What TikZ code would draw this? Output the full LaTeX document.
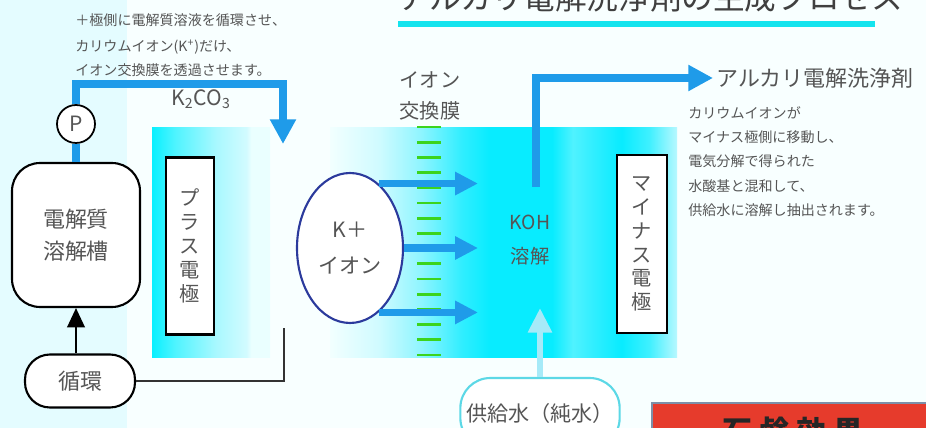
\documentclass[tikz,border=0pt]{standalone}
\usepackage{fontspec}
\setmainfont{Noto Sans CJK JP}
\usepackage{xcolor}
\usepackage{tikz}
\usetikzlibrary{positioning, arrows.meta, shapes.geometric}

\definecolor{pipeblue}{HTML}{1F9BE9}
\definecolor{labelgray}{HTML}{555555}
\definecolor{ionblue}{HTML}{2B3A9C}
\definecolor{membranegreen}{HTML}{3CD41E}
\definecolor{waterblue}{HTML}{A6EAF8}
\definecolor{waterline}{HTML}{5CD8E6}
\definecolor{titlecyan}{HTML}{14E4EE}
\definecolor{soapred}{HTML}{E63B2C}
\definecolor{soapframe}{HTML}{7D8FA8}
\definecolor{leftbg}{HTML}{E4FCFF}
\definecolor{rightbg}{HTML}{F8FFFF}

\definecolor{plusA}{HTML}{08F0FF}
\definecolor{plusB}{HTML}{50F4FF}
\definecolor{plusC}{HTML}{A8F8FF}
\definecolor{plusD}{HTML}{D2FBFF}
\definecolor{plusE}{HTML}{EAFFFF}
\pgfdeclarehorizontalshading{plusgrad}{100bp}{color(0bp)=(plusA); color(25bp)=(plusA);
	color(35bp)=(plusB); color(52bp)=(plusC); color(65bp)=(plusD); color(67bp)=(plusE);
	color(75bp)=(plusE); color(100bp)=(plusE)}

\definecolor{solA}{HTML}{F2FFFF}
\definecolor{solB}{HTML}{D0FBFF}
\definecolor{solC}{HTML}{90F5FF}
\definecolor{solD}{HTML}{30EEFF}
\definecolor{solE}{HTML}{08ECFF}
\definecolor{solF}{HTML}{50F2FF}
\definecolor{solG}{HTML}{40F0FF}
\definecolor{solH}{HTML}{B8F8FF}
\pgfdeclarehorizontalshading{solgrad}{100bp}{color(0bp)=(solA); color(25bp)=(solA);
	color(32bp)=(solB); color(38bp)=(solC); color(44bp)=(solD); color(48bp)=(solE);
	color(57bp)=(solE); color(60bp)=(solF); color(63bp)=(solD); color(67bp)=(solE);
	color(71bp)=(solG); color(75bp)=(solH); color(100bp)=(solH)}

\begin{document}
\begin{tikzpicture}[x=0.02cm,y=-0.02cm]
					\tikzstyle{note}=[font=\fontsize{8}{9}\selectfont, text=labelgray, anchor=west, inner sep=0]
					\tikzstyle{label}=[font=\fontsize{12}{18}\selectfont, text=labelgray, align=center, inner sep=0]
					\tikzstyle{pump}=[circle, draw=black, line width=1pt, fill=white, minimum size=0.76cm, inner sep=0, font=\fontsize{12}{14}\selectfont, text=labelgray]
					\tikzstyle{tank}=[rectangle, rounded corners=0.56cm, draw=black, line width=1.2pt, fill=white, minimum width=2.56cm, minimum height=2.88cm, align=center, font=\fontsize{12.5}{18}\selectfont, text=labelgray]
					\tikzstyle{loopbox}=[rectangle, rounded corners=0.5cm, draw=black, line width=1.2pt, fill=white, minimum width=2.2cm, minimum height=1.06cm, font=\fontsize{12.5}{14}\selectfont, text=labelgray]
					\tikzstyle{electrode}=[rectangle, draw=black, line width=1.2pt, fill=white, align=center, inner sep=0, font=\fontsize{11.5}{13.6}\selectfont, text=labelgray]
					\tikzstyle{ion}=[ellipse, draw=ionblue, line width=1.2pt, fill=white, minimum width=2.08cm, minimum height=3cm, align=center, font=\fontsize{12}{21}\selectfont, text=labelgray]
					\tikzstyle{supply}=[rectangle, rounded corners=0.6cm, draw=waterline, line width=1.2pt, fill=white, minimum width=2.8cm, minimum height=1.4cm, font=\fontsize{12}{14}\selectfont, text=labelgray]
					\tikzstyle{soap}=[rectangle, draw=soapframe, line width=1.5pt, fill=soapred, minimum width=5.64cm, minimum height=1.12cm, font=\fontsize{17}{20}\selectfont\bfseries, text=black!85]
					\tikzstyle{pipe}=[draw=pipeblue, line width=4pt]
					\tikzstyle{pipehead}=[-{Triangle[length=14pt, width=14pt]}]
					\tikzstyle{ionarrow}=[draw=pipeblue, line width=4pt, -{Triangle[length=13pt, width=12.5pt]}]
					\tikzstyle{waterarrow}=[draw=waterblue, line width=3.5pt, -{Triangle[length=14pt, width=13pt]}]
					\tikzstyle{feed}=[draw=black, line width=1.2pt, -{Triangle[length=11pt, width=10pt]}]
					\tikzstyle{return}=[draw=black!80, line width=1.1pt]
					\tikzstyle{membrane}=[draw=membranegreen, line width=1.7pt]

					\useasboundingbox (0,0) rectangle (926,428);
					\clip (0,0) rectangle (926,428);

					% background and solution areas
					\fill[leftbg] (0,0) rectangle (127,428);
					\fill[rightbg] (127,0) rectangle (926,428);
					\shade[shading=plusgrad] (152,128) rectangle (270,358);
					\shade[shading=solgrad] (330,128) rectangle (677,358);

					% title
					\node[anchor=base west, inner sep=0, font=\fontsize{18}{20}\selectfont, text=black!75](title) at (398,10){アルカリ電解洗浄剤の生成プロセス};
					\draw[draw=titlecyan, line width=3.4pt] (398,24) -- (875,24);

					% explanations
					\node[note](note1) at (75,20){＋極側に電解質溶液を循環させ、};
					\node[note](note2) at (75,47){カリウムイオン(K\textsuperscript{+})だけ、};
					\node[note](note3) at (75,70){イオン交換膜を透過させます。};
					\node[note](info1) at (688,113){カリウムイオンが};
					\node[note](info2) at (688,137){マイナス極側に移動し、};
					\node[note](info3) at (688,161){電気分解で得られた};
					\node[note](info4) at (688,186){水酸基と混和して、};
					\node[note](info5) at (688,210){供給水に溶解し抽出されます。};

					% electrolyte loop
					\node[pump](pump) at (76,124){P};
					\node[tank](tank) at (76,235){電解質\\溶解槽};
					\node[loopbox](loop) at (80,381){循環};
					\node[label](k2co3) at (201,99){K\textsubscript{2}CO\textsubscript{3}};
					\coordinate (pipetop) at (283,84);
					\coordinate (pipein) at (283,144);
					\coordinate (retend) at (284,328);
					\draw[pipe] (pump.south) -- (tank.north);
					\draw[pipe, pipehead] (pump.north) |- (pipetop) -- (pipein);
					\draw[feed] (loop.north -| tank.south) -- (tank.south);
					\draw[return] (loop.east) -| (retend);

					% electrodes
					\node[electrode, minimum width=0.96cm, minimum height=3.54cm](plus) at (190,246){プ\\ラ\\ス\\電\\極};
					\node[electrode, minimum width=1cm, minimum height=3.56cm](minus) at (642,244){マ\\イ\\ナ\\ス\\電\\極};

					% ion exchange membrane
					\node[label, font=\fontsize{11.5}{18}\selectfont](membranelabel) at (430,96){イオン\\交換膜};
					\foreach \i in {0,...,15}
						\draw[membrane] (417,127+15.2*\i) -- (441,127+15.2*\i);

					% potassium ions
					\node[ion](kion) at (350,248){K＋\\イオン};
					\coordinate (kout) at (478,0);
					\foreach \a in {66,0,294}
						\draw[ionarrow] (kion.\a) -- (kion.\a -| kout);

					% product
					\node[label, font=\fontsize{11}{19}\selectfont](koh) at (530,240){KOH\\溶解};
					\coordinate (kohtop) at (536,187);
					\node[anchor=west, inner sep=2pt, font=\fontsize{12.5}{14}\selectfont, text=labelgray](product) at (713,78){アルカリ電解洗浄剤};
					\draw[pipe, pipehead] (kohtop) |- (product.west);

					% supply water
					\node[supply](water) at (540,413){供給水（純水）};
					\coordinate (watertip) at (540,308);
					\draw[waterarrow] (water.north) -- (watertip);

					% soap effect
					\node[soap](soap) at (793,431){石\hspace{4pt}鹸\hspace{4pt}効\hspace{4pt}果};
				\end{tikzpicture}
\end{document}
